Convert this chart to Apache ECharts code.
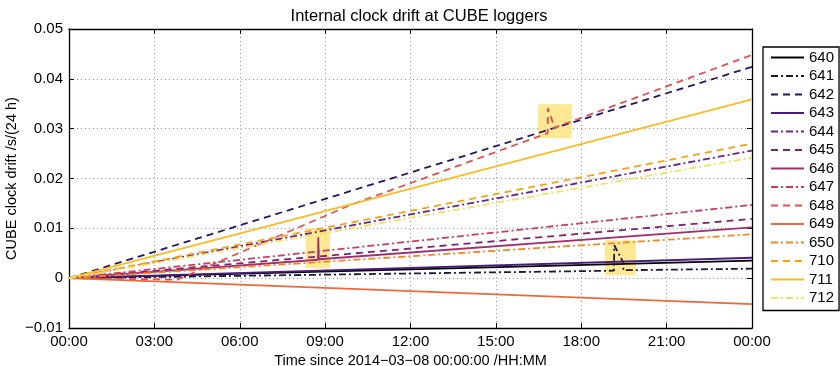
<!DOCTYPE html>
<html>
<head>
<meta charset="utf-8">
<script src="https://cdn.jsdelivr.net/npm/echarts@6/dist/echarts.min.js"></script>
<style>
  html, body { margin: 0; padding: 0; background: #fff; }
  #chart { width: 840px; height: 366px; }
</style>
</head>
<body>
<div id="chart"></div>
<script>
// Logger IDs, in legend order
const loggers = ['640', '641', '642', '643', '644', '645', '646', '647', '648', '649', '650', '710', '711', '712'];

// Drift readings per logger: [hours since start, drift s/(24 h)]
const drift640 = [[0, 0], [24, 0.0035]];
const drift641 = [[0, 0], [19.15, 0.0015], [19.16, 0.0066], [19.29, 0.0052], [19.47, 0.0032], [19.48, 0.0016], [24, 0.0019]];
const drift642 = [[0, 0], [24, 0.0424]];
const drift643 = [[0, 0], [24, 0.0041]];
const drift644 = [[0, 0], [24, 0.0256]];
const drift645 = [[0, 0], [24, 0.0119]];
const drift646 = [[0, 0], [8.75, 0.0037], [8.76, 0.0082], [8.78, 0.0038], [24, 0.0102]];
const drift647 = [[0, 0], [24, 0.0147]];
const drift648 = [[0, 0], [3.8, -0.0003], [9.9, 0.0147], [16.82, 0.0291], [16.83, 0.0341], [17.0, 0.0313], [17.01, 0.0301], [24, 0.0448]];
const drift649 = [[0, 0], [24, -0.0052]];
const drift650 = [[0, 0], [24, 0.0088]];
const drift710 = [[0, 0], [24, 0.0270]];
const drift711 = [[0, 0], [24, 0.0359]];
const drift712 = [[0, 0], [24, 0.0242]];

// Highlighted intervals: [[t0, y0], [t1, y1]]
const highlights = [
  [[8.31, 0.0020], [9.17, 0.0100]],
  [[16.48, 0.0281], [17.67, 0.0349]],
  [[18.83, 0.0006], [19.92, 0.0076]]
];

// Axis ticks
const xTicks = { min: 0, max: 24, step: 3 };
const yTicks = { min: -0.01, max: 0.05, step: 0.01 };

const driftData = [drift640, drift641, drift642, drift643, drift644, drift645, drift646,
                   drift647, drift648, drift649, drift650, drift710, drift711, drift712];

const colors = ['#000000', '#1c1a3a', '#2c1260', '#4a1b7d', '#6c2286', '#7c2270', '#a32f6f',
                '#c73d5f', '#df5050', '#ee6838', '#f4861d', '#f8a212', '#fbbb22', '#f3e05e'];

const SOLID = 'solid';
const DASHED = [7, 5];
const DASHDOT = [7, 3, 2, 3];
const styles = [SOLID, DASHDOT, DASHED, SOLID, DASHDOT, DASHED, SOLID,
                DASHDOT, DASHED, SOLID, DASHDOT, DASHED, SOLID, DASHDOT];

const FONT = 'Liberation Sans, Arial, Helvetica, sans-serif';

function hhmm(v) {
  const h = Math.round(v) % 24;
  return (h < 10 ? '0' : '') + h + ':00';
}

const gridBox = { left: 69, right: 88, top: 29, bottom: 38, containLabel: false, outerBoundsMode: 'none' };

const series = loggers.map((name, i) => ({
  name: name,
  type: 'line',
  data: driftData[i],
  symbol: 'none',
  showSymbol: false,
  z: 3,
  lineStyle: { color: colors[i], width: 1.8, type: styles[i] },
  itemStyle: { color: colors[i] },
  animation: false
}));

// Shaded boxes behind the lines
series.unshift({
  name: 'highlight',
  type: 'line',
  data: [],
  z: 1,
  silent: true,
  animation: false,
  markArea: {
    silent: true,
    itemStyle: { color: 'rgba(253, 228, 130, 0.85)', borderRadius: 4 },
    data: highlights.map(h => [{ coord: h[0] }, { coord: h[1] }])
  }
});

const axisCommon = {
  axisLine: { show: true, onZero: false, lineStyle: { color: '#000', width: 1.3 } },
  axisTick: { show: true, inside: true, length: 5, lineStyle: { color: '#000', width: 1 } }
};

const option = {
  animation: false,
  backgroundColor: '#fff',
  title: {
    text: 'Internal clock drift at CUBE loggers',
    left: 414, top: 3, textAlign: 'center',
    textStyle: { fontFamily: FONT, fontSize: 16.5, fontWeight: 'normal', color: '#000' }
  },
  grid: gridBox,
  legend: {
    data: loggers,
    orient: 'vertical',
    left: 763, top: 47,
    padding: [3, 5, 5, 7],
    itemWidth: 33, itemHeight: 14, itemGap: 3.5, itemTextGap: 5,
    itemStyle: { opacity: 0 },
    borderColor: '#000', borderWidth: 1.3, backgroundColor: '#fff',
    textStyle: { fontFamily: FONT, fontSize: 15, color: '#000', lineHeight: 15 },
    selectedMode: false
  },
  xAxis: [
    Object.assign({
      type: 'value', min: xTicks.min, max: xTicks.max, interval: xTicks.step,
      position: 'bottom',
      name: 'Time since 2014\u221203\u221208 00:00:00 /HH:MM',
      nameLocation: 'middle', nameGap: 22,
      nameTextStyle: { fontFamily: FONT, fontSize: 14.5, color: '#000' },
      axisLabel: { formatter: hhmm, fontFamily: FONT, fontSize: 15, color: '#000', margin: 6 },
      splitLine: { show: true, lineStyle: { color: '#9a9a9a', type: [1, 3], width: 1 } }
    }, axisCommon),
    Object.assign({
      type: 'value', min: xTicks.min, max: xTicks.max, interval: xTicks.step,
      position: 'top',
      axisLabel: { show: false },
      splitLine: { show: false }
    }, axisCommon)
  ],
  yAxis: [
    Object.assign({
      type: 'value', min: yTicks.min, max: yTicks.max, interval: yTicks.step,
      position: 'left',
      name: 'CUBE clock drift /s/(24 h)',
      nameLocation: 'middle', nameGap: 50, nameMoveOverlap: false,
      nameTextStyle: { fontFamily: FONT, fontSize: 14.5, color: '#000' },
      axisLabel: {
        fontFamily: FONT, fontSize: 15, color: '#000', margin: 6,
        formatter: v => {
          const r = Math.round(v * 100) / 100;
          if (r === 0) return '0';
          return (r < 0 ? '\u2212' : '') + Math.abs(r).toFixed(2);
        }
      },
      splitLine: { show: true, lineStyle: { color: '#9a9a9a', type: [1, 3], width: 1 } }
    }, axisCommon),
    Object.assign({
      type: 'value', min: yTicks.min, max: yTicks.max, interval: yTicks.step,
      position: 'right',
      axisLabel: { show: false },
      splitLine: { show: false }
    }, axisCommon)
  ],
  series: series
};

const chart = echarts.init(document.getElementById('chart'), null, { renderer: 'canvas' });
chart.setOption(option);
</script>
</body>
</html>
